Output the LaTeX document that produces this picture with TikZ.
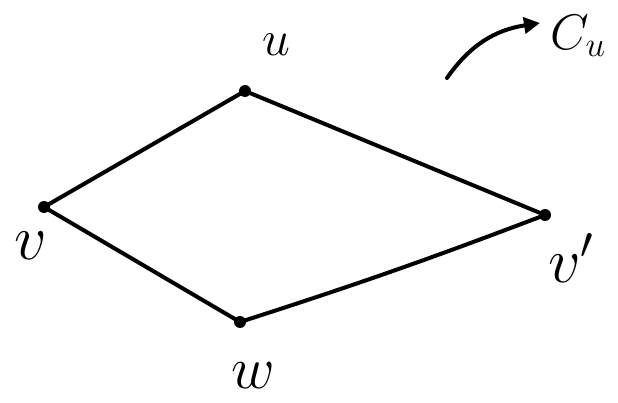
\RequirePackage{fix-cm}
\documentclass[tikz,border=0pt]{standalone}
\usetikzlibrary{arrows.meta}
\begin{document}
\begin{tikzpicture}[x=1pt,y=-1pt,
  dot/.style={circle,fill=black,inner sep=0pt,minimum size=12pt},
  edge/.style={line width=4pt,line cap=round,line join=round},
  lbl/.style={inner sep=0pt}]
\useasboundingbox (0,0) rectangle (618,403);
\node[dot] (v) at (44,207) {};
\node[dot] (u) at (245,91) {};
\node[dot] (vp) at (545,215) {};
\node[dot] (w) at (240,322) {};
\draw[edge] (v.center) -- (u.center);
\draw[edge] (u.center) -- (vp.center);
\draw[edge] (vp.center) to[bend left=1.5] (w.center);
\draw[edge] (w.center) -- (v.center);
\node[lbl,font=\fontsize{50}{50}\selectfont] (ul) at (276,45) {$u$};
\node[lbl,font=\fontsize{64}{64}\selectfont] (vl) at (31,246) {$v$};
\node[lbl,font=\fontsize{64}{64}\selectfont] (vpl) at (571,258) {$v'$};
\node[lbl,font=\fontsize{60}{60}\selectfont] (wl) at (253,376) {$w$};
\node[lbl,font=\fontsize{50}{50}\selectfont] (cu) at (578,36) {$C_u$};
\coordinate (a0) at (447,78);
\coordinate (a1) at (540,23);
\draw[edge,-{Triangle[length=16pt,width=16pt]}] (a0) .. controls (470,45) and (495,30) .. (a1);
\end{tikzpicture}
\end{document}
